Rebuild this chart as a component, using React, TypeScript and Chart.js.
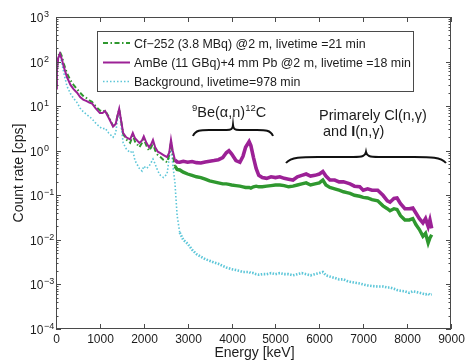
import React, { useEffect, useRef } from "react";
import { Chart, registerables } from "chart.js";

Chart.register(...registerables);

// ---------- data ----------
const energyKeV = [
  0, 20, 50, 90, 130, 180, 250, 330, 400, 480,
  550, 620, 700, 760, 820, 900, 1000, 1060, 1120, 1200,
  1300, 1360, 1400, 1440, 1480, 1530, 1600, 1690, 1750, 1800,
  1900, 1960, 2000, 2060, 2120, 2170, 2210, 2260, 2320, 2380,
  2450, 2530, 2580, 2620, 2660, 2710, 2760, 2820, 2900, 3000,
  3100, 3200, 3300, 3400, 3500, 3600, 3700, 3800, 3880, 3940,
  4000, 4100, 4190, 4260, 4320, 4400, 4440, 4500, 4560, 4620,
  4700, 4800, 4900, 5000, 5100, 5200, 5300, 5400, 5500, 5600,
  5700, 5800, 5900, 6000, 6080, 6150, 6240, 6350, 6450, 6550,
  6630, 6700, 6800, 6920, 7000, 7100, 7200, 7330, 7450, 7550,
  7610, 7700, 7770, 7850, 7950, 8050, 8130, 8200, 8280, 8360,
  8420, 8480, 8520, 8560,
];

const cfRate = [
  30, 70, 130, 165, 135, 88, 55, 38, 30, 24,
  20, 17, 15, 13.5, 12.5, 10, 8, 7.5, 8, 5.8,
  3.6, 4, 6, 8.5, 5, 2.4, 1.8, 1.5, 2.2, 1.6,
  1.2, 1.5, 1.8, 1.3, 1.0, 1.2, 1.5, 1.0, 0.8, 0.72,
  0.62, 0.55, 0.8, 1.6, 0.8, 0.45, 0.38, 0.37, 0.33, 0.3,
  0.28, 0.26, 0.25, 0.23, 0.21, 0.2, 0.19, 0.18, 0.18, 0.175,
  0.17, 0.165, 0.16, 0.155, 0.15, 0.15, 0.145, 0.155, 0.16, 0.155,
  0.155, 0.16, 0.165, 0.17, 0.17, 0.165, 0.155, 0.16, 0.17, 0.18,
  0.19, 0.17, 0.18, 0.19, 0.22, 0.17, 0.15, 0.14, 0.13, 0.12,
  0.115, 0.11, 0.1, 0.095, 0.09, 0.087, 0.08, 0.075, 0.058, 0.05,
  0.045, 0.05, 0.048, 0.035, 0.028, 0.028, 0.03, 0.022, 0.017, 0.012,
  0.014, 0.0085, 0.011, 0.013,
];

const ambeRate = [
  25, 60, 120, 150, 115, 75, 45, 30, 24, 20,
  16, 14, 13, 12, 11.5, 9, 7, 7, 7.8, 5.5,
  3.5, 4, 6, 8.7, 5, 2.5, 2, 1.8, 2.5, 1.9,
  1.5, 1.7, 2.1, 1.5, 1.2, 1.4, 1.75, 1.2, 0.95, 0.88,
  0.8, 0.72, 0.9, 1.75, 1.0, 0.62, 0.56, 0.55, 0.58, 0.55,
  0.57, 0.54, 0.53, 0.56, 0.58, 0.6, 0.63, 0.7, 0.9, 1.0,
  0.85, 0.6, 0.55, 0.75, 1.2, 1.6, 1.3, 0.7, 0.4, 0.28,
  0.25, 0.24, 0.26, 0.25, 0.26, 0.24, 0.23, 0.22, 0.26, 0.28,
  0.3, 0.27, 0.28, 0.3, 0.34, 0.27, 0.22, 0.22, 0.2, 0.2,
  0.19, 0.18, 0.16, 0.155, 0.13, 0.14, 0.13, 0.13, 0.1, 0.075,
  0.07, 0.085, 0.087, 0.065, 0.05, 0.05, 0.052, 0.04, 0.03, 0.024,
  0.03, 0.02, 0.028, 0.018,
];

const backgroundRate = [
  25, 55, 110, 140, 95, 55, 28, 19, 15, 12,
  9, 7.5, 6.5, 5.8, 5.2, 4.2, 3.4, 3.1, 3.2, 2.5,
  2, 2.5, 5, 8, 4, 1.5, 1.1, 0.9, 1.0, 0.6,
  0.4, 0.35, 0.45, 0.4, 0.45, 0.55, 0.65, 0.5, 0.35, 0.28,
  0.25, 0.3, 0.7, 1.5, 0.5, 0.19, 0.035, 0.0145, 0.01, 0.0082,
  0.006, 0.0048, 0.0042, 0.0037, 0.0034, 0.0031, 0.0029, 0.0026, 0.0024, 0.0023,
  0.0022, 0.0021, 0.002, 0.0019, 0.0019, 0.0019, 0.0018, 0.0018, 0.0017, 0.00165,
  0.0017, 0.0017, 0.0018, 0.0017, 0.0018, 0.0017, 0.0017, 0.0016, 0.0017, 0.0018,
  0.0017, 0.0016, 0.0017, 0.0018, 0.0019, 0.0016, 0.0015, 0.0014, 0.0013, 0.0013,
  0.0012, 0.00115, 0.0011, 0.00105, 0.001, 0.00095, 0.00092, 0.0009, 0.0009, 0.00085,
  0.00085, 0.0008, 0.00075, 0.00072, 0.0007, 0.00065, 0.0007, 0.00068, 0.00065, 0.00062,
  0.0006, 0.00062, 0.00058, 0.0006,
];

const xTickValues = [0, 1000, 2000, 3000, 4000, 5000, 6000, 7000, 8000, 9000];
const yDecadeExponents = [-4, -3, -2, -1, 0, 1, 2, 3];

const seriesLabels = [
  "Cf\u2212252 (3.8 MBq) @2 m, livetime =21 min",
  "AmBe (11 GBq)+4 mm Pb @2 m, livetime =18 min",
  "Background, livetime=978 min",
];

const xTitle = "Energy [keV]";
const yTitle = "Count rate [cps]";

// ---------- styles ----------
const GREEN = "#2f982f";
const PURPLE = "#9c2196";
const CYAN = "#5cc6d8";
const AXIS = "#4a4a4a";
const TEXT = "#1c1c1c";
const FONT = "'Liberation Sans', Arial, Helvetica, sans-serif";
const GREEN_DASH = [5, 2.5, 1.5, 2.5];
const CYAN_DOT = [1.5, 2];

const toPoints = (vals: number[]) => energyKeV.map((e, i) => ({ x: e, y: vals[i] }));

const decorPlugin = {
  id: "decor",
  afterDatasetsDraw(chart: any) {
    const ctx: CanvasRenderingContext2D = chart.ctx;
    const xs = chart.scales.x;
    const ys = chart.scales.y;
    const { left, right, top, bottom } = chart.chartArea;
    ctx.save();

    const line = (x1: number, y1: number, x2: number, y2: number) => {
      ctx.beginPath();
      ctx.moveTo(x1, y1);
      ctx.lineTo(x2, y2);
      ctx.stroke();
    };

    // frame
    ctx.strokeStyle = AXIS;
    ctx.lineWidth = 1;
    ctx.setLineDash([]);
    ctx.strokeRect(left + 0.5, top + 0.5, right - left - 1, bottom - top - 1);

    // x ticks & labels
    ctx.fillStyle = TEXT;
    ctx.font = `12px ${FONT}`;
    ctx.textAlign = "center";
    ctx.textBaseline = "alphabetic";
    xTickValues.forEach((v) => {
      const px = Math.round(xs.getPixelForValue(v)) + 0.5;
      line(px, bottom, px, bottom - 5);
      line(px, top, px, top + 5);
      ctx.fillText(String(v), px, bottom + 14);
    });

    // y ticks & labels
    yDecadeExponents.forEach((d) => {
      const py = Math.round(ys.getPixelForValue(Math.pow(10, d))) + 0.5;
      line(left, py, left + 5, py);
      line(right, py, right - 5, py);
      if (d < 3) {
        for (let m = 2; m <= 9; m++) {
          const pm = Math.round(ys.getPixelForValue(m * Math.pow(10, d))) + 0.5;
          line(left, pm, left + 2.5, pm);
          line(right, pm, right - 2.5, pm);
        }
      }
      ctx.textAlign = "left";
      ctx.font = `12px ${FONT}`;
      ctx.fillText("10", 30, py + 4.5);
      ctx.font = `9px ${FONT}`;
      const ex = d < 0 ? "\u2212" + String(-d) : String(d);
      ctx.fillText(ex, 44, py - 0.5);
    });

    // axis titles
    ctx.font = `14px ${FONT}`;
    ctx.textAlign = "center";
    ctx.fillText(xTitle, (left + right) / 2 + 1, 357);
    ctx.save();
    ctx.translate(23, (top + bottom) / 2);
    ctx.rotate(-Math.PI / 2);
    ctx.fillText(yTitle, 0, 0);
    ctx.restore();

    // legend
    const lx0 = 97.5, ly0 = 31.5, lx1 = 413.5, ly1 = 91.5;
    ctx.fillStyle = "#ffffff";
    ctx.fillRect(lx0, ly0, lx1 - lx0, ly1 - ly0);
    ctx.strokeStyle = AXIS;
    ctx.lineWidth = 1;
    ctx.strokeRect(lx0, ly0, lx1 - lx0, ly1 - ly0);
    const rows = [43, 62.5, 81.5];
    const styles = [
      { color: GREEN, dash: GREEN_DASH, width: 2 },
      { color: PURPLE, dash: [] as number[], width: 2 },
      { color: CYAN, dash: CYAN_DOT, width: 1.5 },
    ];
    rows.forEach((ry, i) => {
      ctx.strokeStyle = styles[i].color;
      ctx.lineWidth = styles[i].width;
      ctx.setLineDash(styles[i].dash);
      line(103, ry, 130, ry);
      ctx.setLineDash([]);
      ctx.fillStyle = TEXT;
      ctx.font = `12.4px ${FONT}`;
      ctx.textAlign = "left";
      ctx.fillText(seriesLabels[i], 134, ry + 4.5);
    });

    // annotations
    const drawRuns = (runs: { t: string; size: number; dy: number; bold?: boolean }[], x: number, y: number) => {
      let cx = x;
      runs.forEach((r) => {
        ctx.font = `${r.bold ? "bold " : ""}${r.size}px ${FONT}`;
        ctx.fillText(r.t, cx, y + r.dy);
        cx += ctx.measureText(r.t).width;
      });
    };
    ctx.fillStyle = TEXT;
    ctx.textAlign = "left";
    drawRuns(
      [
        { t: "9", size: 9.5, dy: -6 },
        { t: "Be(\u03b1,n)", size: 14.5, dy: 0 },
        { t: "12", size: 9.5, dy: -6 },
        { t: "C", size: 14.5, dy: 0 },
      ],
      192,
      117
    );
    drawRuns(
      [
        { t: "Primarely ", size: 14.5, dy: 0 },
        { t: "Cl", size: 14.5, dy: 0 },
        { t: "(n,\u03b3)", size: 14.5, dy: 0 },
      ],
      319,
      120
    );
    drawRuns(
      [
        { t: "and ", size: 14.5, dy: 0 },
        { t: "I", size: 14.5, dy: 0, bold: true },
        { t: "(n,\u03b3)", size: 14.5, dy: 0 },
      ],
      323,
      136
    );

    // braces (overbrace shape)
    const brace = (x0: number, x1: number, yEnd: number, yTip: number) => {
      const mid = (x0 + x1) / 2;
      const yFlat = yEnd - (yEnd - yTip) * 0.55;
      const w = x1 - x0;
      ctx.strokeStyle = "#111";
      ctx.lineWidth = 2;
      ctx.setLineDash([]);
      ctx.beginPath();
      ctx.moveTo(x0, yEnd);
      ctx.bezierCurveTo(x0 + w * 0.03, yFlat, x0 + w * 0.1, yFlat, x0 + w * 0.2, yFlat);
      ctx.lineTo(mid - w * 0.08, yFlat);
      ctx.bezierCurveTo(mid - w * 0.02, yFlat, mid - w * 0.005, yFlat - 1, mid, yTip);
      ctx.bezierCurveTo(mid + w * 0.005, yFlat - 1, mid + w * 0.02, yFlat, mid + w * 0.08, yFlat);
      ctx.lineTo(x1 - w * 0.2, yFlat);
      ctx.bezierCurveTo(x1 - w * 0.1, yFlat, x1 - w * 0.03, yFlat, x1, yEnd);
      ctx.stroke();
    };
    brace(193, 273, 136, 125);
    brace(286, 446, 163, 152);

    ctx.restore();
  },
};

export default function App() {
  const ref = useRef<HTMLCanvasElement | null>(null);

  useEffect(() => {
    document.body.style.margin = "0";
    const canvas = ref.current;
    if (!canvas) return;
    const chart = new Chart(canvas, {
      type: "line",
      data: {
        datasets: [
          {
            label: seriesLabels[1],
            data: toPoints(ambeRate),
            borderColor: PURPLE,
            borderWidth: 2,
            pointRadius: 0,
            tension: 0,
            order: 0,
            segment: {
              borderWidth: (c: any) => (c.p0.parsed.x >= 2700 ? 3.6 : 2),
            },
          } as any,
          {
            label: seriesLabels[0],
            data: toPoints(cfRate),
            borderColor: GREEN,
            borderWidth: 2,
            pointRadius: 0,
            tension: 0,
            order: 1,
            segment: {
              borderDash: (c: any) => (c.p0.parsed.x < 2700 ? GREEN_DASH : []),
              borderWidth: (c: any) => (c.p0.parsed.x >= 2700 ? 3.4 : 2),
            },
          } as any,
          {
            label: seriesLabels[2],
            data: toPoints(backgroundRate),
            borderColor: CYAN,
            borderWidth: 1.6,
            borderDash: CYAN_DOT,
            pointRadius: 0,
            tension: 0,
            order: 2,
            segment: {
              borderWidth: (c: any) => (c.p0.parsed.x >= 2800 ? 2.6 : 1.6),
              borderDash: (c: any) => (c.p0.parsed.x >= 2800 ? [1.5, 1.5] : CYAN_DOT),
            },
          } as any,
        ],
      },
      options: {
        animation: false,
        responsive: false,
        maintainAspectRatio: false,
        layout: { padding: { left: 56, top: 17, right: 15, bottom: 31 } },
        scales: {
          x: { type: "linear", min: 0, max: 9000, display: false },
          y: { type: "logarithmic", min: 1e-4, max: 1e3, display: false },
        },
        plugins: { legend: { display: false }, tooltip: { enabled: false } },
      },
      plugins: [decorPlugin],
    });
    return () => chart.destroy();
  }, []);

  return (
    <div style={{ position: "absolute", left: 0, top: 0, width: 466, height: 360, background: "#fff" }}>
      <canvas ref={ref} width={466} height={360} style={{ display: "block" }} />
    </div>
  );
}
